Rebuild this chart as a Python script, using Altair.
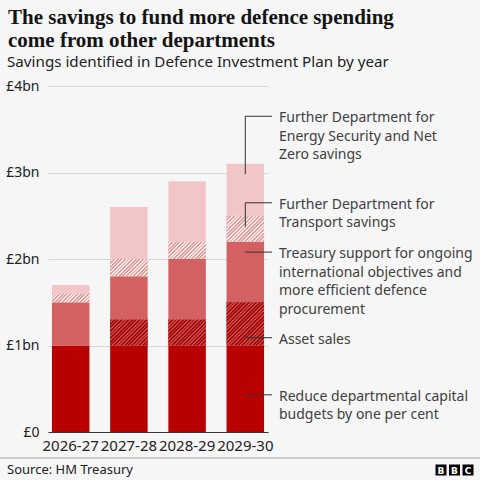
import altair as alt
import pandas as pd

# ---- data (£bn) ----
years = ["2026-27", "2027-28", "2028-29", "2029-30"]
capital_cuts = [1.0, 1.0, 1.0, 1.0]
asset_sales = [0.0, 0.3, 0.3, 0.5]
treasury_support = [0.5, 0.5, 0.7, 0.7]
transport_savings = [0.1, 0.2, 0.2, 0.3]
energy_savings = [0.1, 0.6, 0.7, 0.6]

series = [
    "Reduce departmental capital budgets",
    "Asset sales",
    "Treasury support",
    "Transport savings",
    "Energy savings",
]
series_values = [capital_cuts, asset_sales, treasury_support, transport_savings, energy_savings]
series_colors = ["#b80000", "#b52020", "#d36161", "#eab2b2", "#f2c6c6"]
hatched = {
    # series: (stripe colour, gap colour, stripe share)
    "Asset sales": ("#a30808", "#c84646", 0.5),
    "Transport savings": ("#e39d9d", "#f8e8e8", 0.5),
}

ann_lines = [
    ["Further Department for", "Energy Security and Net", "Zero savings"],
    ["Further Department for", "Transport savings"],
    ["Treasury support for ongoing", "international objectives and",
     "more efficient defence", "procurement"],
    ["Asset sales"],
    ["Reduce departmental capital", "budgets by one per cent"],
]
ann_label_y = [3.65, 2.65, 2.08, 1.09, 0.43]
ann_anchor_y = [2.98, 2.37, 2.08, 1.09, 0.43]

# ---- layout ----
W, H = 220, 346
Y_MAX = 4
PAD_IN, PAD_OUT = 0.356, 0.068
FONT = "Noto Sans"
TEXT = "#404040"

rows = []
for order, (name, vals) in enumerate(zip(series, series_values)):
    for yr, v in zip(years, vals):
        rows.append({"year": yr, "series": name, "value": v, "order": order})
bars_df = pd.DataFrame(rows)

x_scale = alt.Scale(domain=years, paddingInner=PAD_IN, paddingOuter=PAD_OUT)
y_scale = alt.Scale(domain=[0, Y_MAX], nice=False)

base = (
    alt.Chart(bars_df)
    .transform_filter("datum.value > 0")
    .transform_stack(stack="value", groupby=["year"], as_=["y0", "y1"],
                     sort=[alt.SortField("order", order="ascending")])
)

solid = base.mark_bar().encode(
    x=alt.X("year:N", scale=x_scale, title=None,
            axis=alt.Axis(labelAngle=0, ticks=False, domain=True, domainColor="#333333",
                          labelFontSize=15, labelFont=FONT, labelColor="#222222",
                          labelPadding=6)),
    y=alt.Y("y0:Q", scale=y_scale, title=None,
            axis=alt.Axis(values=[0, 1, 2, 3, 4], ticks=False, domain=False,
                          gridColor="#d9d9d9", labelFontSize=14, labelFont=FONT,
                          labelColor="#222222", labelPadding=9,
                          labelExpr="datum.value == 0 ? '£0' : '£' + datum.value + 'bn'")),
    y2="y1:Q",
    color=alt.Color("series:N", scale=alt.Scale(domain=series, range=series_colors),
                    legend=None),
)


def stripe_fill(seg_h, stripe, gap, share, period=3.6):
    """Diagonal stripes as a hard-stop linear gradient for a bar of seg_h px."""
    step = W / (len(years) - PAD_IN + 2 * PAD_OUT)
    w = step * (1 - PAD_IN)
    h = seg_h
    k = (w + h) * w / (w * w + h * h)
    span = w + h
    stops = []
    t = 0.0
    while t < span:
        a = t / span
        b = min((t + period * share) / span, 1.0)
        c = min((t + period) / span, 1.0)
        stops += [alt.GradientStop(offset=a, color=stripe),
                  alt.GradientStop(offset=b, color=stripe),
                  alt.GradientStop(offset=b, color=gap),
                  alt.GradientStop(offset=c, color=gap)]
        t += period
    return alt.LinearGradient(gradient="linear", stops=stops,
                              x1=0, y1=0, x2=k, y2=k * h / w)


hatch_layers = []
for name, (stripe, gap, share) in hatched.items():
    vals = series_values[series.index(name)]
    for v in sorted(set(x for x in vals if x > 0)):
        seg_h = v * H / Y_MAX
        layer = (
            base.transform_filter(
                f"datum.series == '{name}' && abs(datum.value - {v}) < 1e-9")
            .mark_bar(fill=stripe_fill(seg_h, stripe, gap, share))
            .encode(x=alt.X("year:N", scale=x_scale),
                    y=alt.Y("y0:Q", scale=y_scale), y2="y1:Q")
        )
        hatch_layers.append(layer)

# ---- annotation leaders and labels ----
ann_df = pd.DataFrame({
    "year": years[-1],
    "label": ["\n".join(l) for l in ann_lines],
    "label_y": ann_label_y,
    "anchor_y": ann_anchor_y,
})
ann = alt.Chart(ann_df)

leader_vertical = ann.transform_filter("datum.anchor_y != datum.label_y").mark_rule(
    color="#333333", strokeWidth=1
).encode(
    x=alt.X("year:N", scale=x_scale, bandPosition=0.5),
    y=alt.Y("anchor_y:Q", scale=y_scale), y2="label_y:Q",
)
leader_horizontal = ann.mark_rule(color="#333333", strokeWidth=1).encode(
    x=alt.X("year:N", scale=x_scale, bandPosition=0.5),
    x2=alt.value(224),
    y=alt.Y("label_y:Q", scale=y_scale),
)
ann_text = ann.mark_text(
    align="left", baseline="top", dy=-5, lineBreak="\n", lineHeight=18.5,
    fontSize=14, font=FONT, color=TEXT,
).encode(
    x=alt.value(231),
    y=alt.Y("label_y:Q", scale=y_scale),
    text="label:N",
)


# ---- titles and footer ----
def free_text(txt, x, y, size, color, weight="normal", font=FONT, baseline="alphabetic"):
    return alt.Chart(alt.Data(values=[{}])).mark_text(
        text=txt, align="left", baseline=baseline, fontSize=size, font=font,
        fontWeight=weight, color=color,
    ).encode(x=alt.value(x), y=alt.value(y))


title1 = free_text("The savings to fund more defence spending", -40, -62, 21,
                   "#141414", "bold", "Liberation Serif")
title2 = free_text("come from other departments", -40, -39, 21,
                   "#141414", "bold", "Liberation Serif")
subtitle = free_text("Savings identified in Defence Investment Plan by year",
                     -41, -19, 15.2, "#222222")
source = free_text("Source: HM Treasury", -41, 384, 13, "#222222", baseline="middle")

separator = alt.Chart(alt.Data(values=[{}])).mark_rule(color="#a0a0a0", strokeWidth=1).encode(
    x=alt.value(-48), x2=alt.value(432), y=alt.value(372)
)

logo = alt.Chart(alt.Data(values=[{"l": "B", "i": 0}, {"l": "B", "i": 1}, {"l": "C", "i": 2}])
                 ).transform_calculate(px="393 + datum.i * 13.5")
logo_boxes = logo.mark_square(size=121, color="#000000", opacity=1).encode(
    x=alt.X("px:Q", scale=None), y=alt.value(384)
)
logo_letters = logo.mark_text(fontSize=9, fontWeight="bold", font="DejaVu Sans",
                              color="#ffffff", baseline="middle").encode(
    x=alt.X("px:Q", scale=None), y=alt.value(384.5), text="l:N"
)

chart = alt.layer(
    solid, *hatch_layers, leader_vertical, leader_horizontal, ann_text,
    title1, title2, subtitle, separator, source, logo_boxes, logo_letters,
).properties(
    width=W, height=H,
    autosize=alt.AutoSizeParams(type="none"),
    padding={"left": 48, "top": 86, "right": 212, "bottom": 48},
).configure(background="#f6f6f6").configure_view(stroke=None)

chart.save("out.html", embed_options={"renderer": "svg", "actions": False})
